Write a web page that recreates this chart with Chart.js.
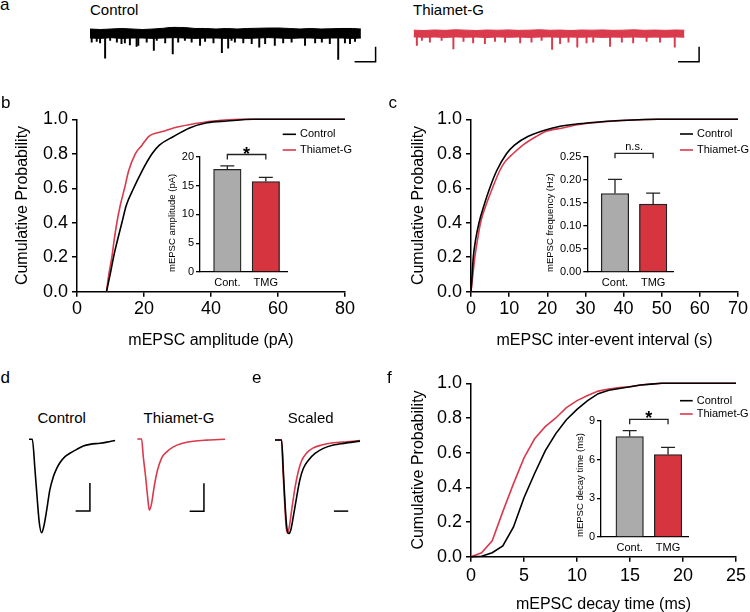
<!DOCTYPE html>
<html><head><meta charset="utf-8">
<script src="https://cdn.jsdelivr.net/npm/chart.js@4/dist/chart.umd.min.js"></script>
<style>
html,body{margin:0;padding:0;background:#fff;width:750px;height:612px;overflow:hidden;position:relative;font-family:"Liberation Sans",Arial,Helvetica,sans-serif;}
canvas{position:absolute;}
.tx{position:absolute;color:#000;white-space:nowrap;}
</style></head><body>
<script>
// ===================== DATA =====================
// panel b : cumulative probability of mEPSC amplitude (pA)
const ampCtrlX = [8.8, 9.9, 10.9, 12.1, 13.4, 14.7, 16.9, 19.4, 22.4, 24.6, 28.8, 33.6, 38.8, 44.7, 52.7, 80];
const ampCtrlP = [0, 0.1, 0.2, 0.3, 0.4, 0.5, 0.6, 0.7, 0.8, 0.85, 0.9, 0.95, 0.98, 0.99, 1.0, 1.0];
const ampTmgX  = [8.8, 9.5, 10.4, 11.1, 11.9, 12.9, 14.2, 15.4, 17.4, 19.4, 21.4, 25.8, 28.8, 33.8, 40.8, 48.7, 80];
const ampTmgP  = [0, 0.1, 0.2, 0.3, 0.4, 0.5, 0.6, 0.7, 0.8, 0.85, 0.9, 0.93, 0.95, 0.97, 0.99, 1.0, 1.0];
// panel c : cumulative probability of inter-event interval (s)
const iviCtrlX = [0, 0.3, 0.6, 1.2, 2.1, 3.4, 4.9, 6.7, 9.3, 11.4, 14.9, 21.4, 26.6, 31, 37, 49, 70];
const iviCtrlP = [0, 0.1, 0.2, 0.3, 0.4, 0.5, 0.6, 0.7, 0.8, 0.85, 0.9, 0.95, 0.97, 0.98, 0.99, 1.0, 1.0];
const iviTmgX  = [0, 0.5, 1.0, 1.7, 2.5, 3.9, 5.6, 7.5, 8.8, 11, 13.6, 17.1, 19.7, 24, 28.4, 37.9, 49, 70];
const iviTmgP  = [0, 0.1, 0.2, 0.3, 0.4, 0.5, 0.6, 0.7, 0.75, 0.8, 0.85, 0.9, 0.93, 0.95, 0.97, 0.99, 1.0, 1.0];
// panel f : cumulative probability of decay time (ms)
const decayX     = [0, 1, 2, 3, 4, 5, 6, 7, 8, 9, 10, 11, 12, 13, 14, 15, 16, 17, 18, 25];
const decayCtrlP = [0, 0.003, 0.023, 0.062, 0.17, 0.34, 0.48, 0.61, 0.71, 0.79, 0.85, 0.90, 0.94, 0.96, 0.97, 0.98, 0.99, 0.995, 1.0, 1.0];
const decayTmgP  = [0, 0.023, 0.092, 0.26, 0.42, 0.57, 0.68, 0.75, 0.80, 0.86, 0.90, 0.93, 0.955, 0.967, 0.975, 0.98, 0.99, 0.996, 1.0, 1.0];
// insets (mean, SEM)
const groups    = ['Cont.', 'TMG'];
const ampMean   = [17.8, 15.7];   const ampSem   = [0.6, 0.7];
const freqMean  = [0.170, 0.147]; const freqSem  = [0.031, 0.024];
const decayMean = [7.8, 6.4];     const decaySem = [0.45, 0.55];
// tick labels
const probTicks   = [0, 0.2, 0.4, 0.6, 0.8, 1.0];
const ampTicks    = [0, 20, 40, 60, 80];
const iviTicks    = [0, 10, 20, 30, 40, 50, 60, 70];
const decayTicks  = [0, 5, 10, 15, 20, 25];
const ampInsetTicks   = [0, 5, 10, 15, 20];
const freqInsetTicks  = [0, 0.05, 0.10, 0.15, 0.20, 0.25];
const decayInsetTicks = [0, 3, 6, 9];
// panel a : raw recordings (time s, current pA relative to baseline)
const noiseT    = [0, 2.5, 5, 7.5, 10, 12.5, 15, 17.5, 20, 22.5, 25, 27.5, 30, 32.5, 35, 37.5, 40, 42.5, 45, 47.5, 50, 52.5, 55, 57.5, 60, 62.5, 64.5];
const ctrlNoiseUp  = [6, 5.3, 6, 6.7, 6, 5.3, 6, 7, 8.7, 8, 6.7, 6.7, 6, 6.7, 6, 6.7, 7, 7.3, 7.3, 6.7, 6, 6.7, 6, 6.4, 6.7, 6.7, 6];
const ctrlNoiseLow = [-6, -6.5, -5.5, -6.5, -6, -6, -6.5, -6, -5.5, -6, -6.5, -6, -6, -6.5, -6, -6.5, -6, -5.5, -6, -6.5, -6, -6, -6.5, -6, -6, -6.5, -6];
const tmgNoiseUp   = [4.5, 4, 4.7, 4.2, 5, 4.5, 4, 4.7, 4.3, 4.8, 4.2, 4.5, 5, 4.3, 4.6, 4, 4.7, 4.4, 4.8, 4.2, 4.5, 4.9, 4.3, 4.6, 4.2, 4.7, 4.4];
const tmgNoiseLow  = [-4.5, -5, -4.7, -5.2, -4.6, -5, -4.8, -5.3, -4.6, -5, -4.7, -5.2, -4.8, -4.6, -5.1, -4.8, -5, -4.6, -5.2, -4.8, -5, -4.7, -5.1, -4.8, -5, -4.6, -4.9];
const ctrlEventT = [0.4, 1.6, 2.4, 3.6, 4.8, 6.4, 7.5, 8.3, 9.5, 11.1, 11.5, 13.5, 15.2, 15.9, 17.9, 19.7, 21.0, 22.6, 24.2, 26.2, 27.4, 29.4, 31.4, 32.9, 33.7, 34.5, 36.5, 38.5, 40.3, 41.7, 44.0, 46.0, 48.0, 51.2, 53.6, 55.2, 57.1, 59.1, 60.7, 61.9, 63.1];
const ctrlEventA = [-11.6, -10.7, -12.4, -32.9, -9.3, -11.6, -13.7, -12.4, -15.1, -17.3, -16, -11.6, -22.7, -9.3, -12.4, -27.1, -11.6, -9.3, -11.6, -16, -10.7, -12.4, -25.7, -19.6, -9.3, -11.6, -12.4, -13.7, -18.3, -13.7, -16, -12.4, -11.6, -16, -12.4, -11.6, -13.7, -34.7, -12.4, -13.7, -10.7];
const tmgEventT  = [0.8, 2.0, 3.9, 6.7, 9.5, 11.9, 14.2, 17.0, 19.4, 21.8, 25.4, 28.1, 30.5, 33.0, 34.9, 36.9, 39.0, 41.2, 42.8, 46.8, 49.6, 52.3, 55.5, 58.7, 62.2];
const tmgEventA  = [-16, -9.3, -11.6, -9.3, -20.4, -10.7, -12.4, -13.7, -10.7, -11.6, -12.4, -11.6, -9.3, -21.3, -13.7, -11.6, -18.3, -12.4, -11.6, -17.3, -11.6, -12.4, -10.7, -11.6, -18.3];
// panel d : averaged mEPSCs (time ms, current pA)
const avgCtrlT = [0, 1.15, 2.1, 2.9, 3.6, 4.4, 5.2, 6.2, 7.3, 8.5, 9.7, 10.8, 12.6, 14.3, 16.7, 19.0, 21.3, 24.8, 27.2, 30.1];
const avgCtrlI = [0, 0, -5.5, -10.8, -14.9, -16.7, -15.5, -12.6, -9.0, -6.7, -5.2, -4.2, -3.1, -2.5, -1.8, -1.2, -0.9, -0.7, -0.5, -0.2];
const avgTmgT  = [0, 1.5, 2.1, 2.9, 3.6, 4.2, 5.0, 5.9, 7.1, 8.5, 10.3, 12.6, 15.5, 19.6, 24.3, 30.7];
const avgTmgI  = [0, 0, -3.2, -6.7, -10.3, -12.7, -11.5, -8.5, -5.5, -3.4, -2.3, -1.4, -0.8, -0.4, -0.2, -0.05];
// panel e : peak-scaled mEPSCs
const scCtrlT = [0, 2.3, 2.9, 3.5, 4.1, 4.8, 5.5, 6.4, 7.6, 8.7, 9.9, 11.7, 14.0, 16.9, 20.4, 23.9, 29.7];
const scCtrlI = [0, 0, -5.4, -11.3, -15.5, -16.7, -16.1, -13.7, -10.1, -7.1, -5.1, -3.6, -2.4, -1.5, -0.9, -0.6, -0.2];
const scTmgT  = [0, 2.3, 2.8, 3.4, 3.9, 4.3, 5.0, 5.8, 7.0, 8.2, 9.3, 11.1, 13.4, 16.3, 20.4, 25.1, 29.7];
const scTmgI  = [0, 0, -5.5, -11.4, -15.5, -16.6, -15.5, -12.6, -8.5, -5.5, -3.7, -2.3, -1.4, -0.9, -0.5, -0.3, -0.1];

// ===================== STYLE =====================
const FAMILY = '"Liberation Sans", Arial, Helvetica, sans-serif';
const BLACK = '#000000', RED = '#D93A4C', GRAY = '#ABABAB', BAR_RED = '#D6343F', OUT = '#222222';
Chart.defaults.font.family = FAMILY;
Chart.defaults.color = '#000';

// ===================== PLUGINS =====================
const miniLegend = { id: 'miniLegend', afterDraw(chart, a, o) {
  if (o.x === undefined) return;
  const ctx = chart.ctx; ctx.save();
  chart.data.datasets.forEach((ds, i) => {
    const y = o.y + i * o.dy;
    ctx.strokeStyle = ds.borderColor; ctx.lineWidth = 1.6;
    ctx.beginPath(); ctx.moveTo(o.x, y); ctx.lineTo(o.x + o.len, y); ctx.stroke();
    ctx.fillStyle = '#000'; ctx.font = '11px ' + FAMILY; ctx.textBaseline = 'middle'; ctx.textAlign = 'left';
    ctx.fillText(ds.label, o.x + o.len + 4, y);
  });
  ctx.restore();
}};
const errBars = { id: 'errBars', afterDatasetsDraw(chart, a, o) {
  if (!o.sem) return;
  const meta = chart.getDatasetMeta(0), ys = chart.scales.y, ctx = chart.ctx;
  ctx.save(); ctx.strokeStyle = OUT; ctx.lineWidth = 1.3;
  meta.data.forEach((bar, i) => {
    const m = chart.data.datasets[0].data[i].y;
    const y0 = ys.getPixelForValue(m), y1 = ys.getPixelForValue(m + o.sem[i]);
    ctx.beginPath(); ctx.moveTo(bar.x, y0); ctx.lineTo(bar.x, y1);
    ctx.moveTo(bar.x - 7, y1); ctx.lineTo(bar.x + 7, y1); ctx.stroke();
  });
  ctx.restore();
}};
const sigBracket = { id: 'sigBracket', afterDraw(chart, a, o) {
  if (o.y === undefined) return;
  const xs = chart.scales.x, ys = chart.scales.y, ctx = chart.ctx;
  const x1 = xs.getPixelForValue(1), x2 = xs.getPixelForValue(2), y = ys.getPixelForValue(o.y);
  ctx.save(); ctx.strokeStyle = OUT; ctx.lineWidth = 1.3;
  ctx.beginPath(); ctx.moveTo(x1, y + 5); ctx.lineTo(x1, y); ctx.lineTo(x2, y); ctx.lineTo(x2, y + 5); ctx.stroke();
  ctx.fillStyle = '#000'; ctx.textAlign = 'center'; ctx.textBaseline = 'alphabetic';
  if (o.label === '*') { ctx.font = 'bold 18px ' + FAMILY; ctx.fillText('*', (x1 + x2) / 2, y + 5); }
  else { ctx.font = '11px ' + FAMILY; ctx.fillText(o.label, (x1 + x2) / 2, y - 3.7); }
  ctx.restore();
}};
const scaleBar = { id: 'scaleBar', afterDraw(chart, a, o) {
  if (o.dx === undefined) return;
  const xs = chart.scales.x, ys = chart.scales.y, ctx = chart.ctx;
  const x1 = xs.getPixelForValue(o.x), x0 = xs.getPixelForValue(o.x - o.dx), y0 = ys.getPixelForValue(o.y);
  ctx.save(); ctx.strokeStyle = '#000'; ctx.lineWidth = 1.5;
  ctx.beginPath(); ctx.moveTo(x0, y0); ctx.lineTo(x1, y0);
  if (o.dy) ctx.lineTo(x1, ys.getPixelForValue(o.y + o.dy));
  ctx.stroke(); ctx.restore();
}};
Chart.register(miniLegend, errBars, sigBracket, scaleBar);

// ===================== HELPERS =====================
function addCanvas(b) {
  const c = document.createElement('canvas');
  c.width = b.w; c.height = b.h;
  c.style.left = b.l + 'px'; c.style.top = b.t + 'px';
  c.style.width = b.w + 'px'; c.style.height = b.h + 'px';
  document.body.appendChild(c); return c;
}
function text(str, x, baseline, size, center, bold) {
  const d = document.createElement('div'); d.className = 'tx'; d.textContent = str;
  d.style.fontSize = size + 'px'; d.style.lineHeight = size + 'px';
  d.style.top = (baseline - 0.8465 * size) + 'px'; d.style.left = x + 'px';
  if (center) d.style.transform = 'translateX(-50%)';
  if (bold) d.style.fontWeight = 'bold';
  document.body.appendChild(d);
}
const pts = (xs, ys) => xs.map((x, i) => ({ x, y: ys[i] }));
const baseOpts = { responsive: false, animation: false, devicePixelRatio: 1, events: [] };

function cumChart(box, area, yTitleCX, xTitleCY, xTicks, xTitle, sets, legend, xTickPad) {
  const LH = 16 * 1.2;
  const scaleLeft = yTitleCX - LH / 2, scaleBottom = xTitleCY + LH / 2;
  const Wy = area.l - scaleLeft, Hx = scaleBottom - area.b;
  const pad = { left: scaleLeft - box.l, top: area.t - box.t, right: box.l + box.w - area.r, bottom: box.t + box.h - scaleBottom };
  const axisGrid = { display: true, drawOnChartArea: false, drawTicks: true, tickLength: 5, color: '#000', lineWidth: 1.5 };
  return new Chart(addCanvas(box), {
    type: 'scatter',
    data: { datasets: sets.map(s => ({ label: s.label, data: pts(s.x, s.p), showLine: true, borderColor: s.color, backgroundColor: s.color,
      borderWidth: 1.6, pointRadius: 0, pointHoverRadius: 0, cubicInterpolationMode: s.mono ? 'monotone' : 'default', tension: 0, clip: 4 })) },
    options: Object.assign({}, baseOpts, {
      layout: { padding: pad },
      plugins: { legend: { display: false }, tooltip: { enabled: false }, miniLegend: legend },
      scales: {
        x: { type: 'linear', min: xTicks[0], max: xTicks[xTicks.length - 1],
          afterBuildTicks: s => { s.ticks = xTicks.map(v => ({ value: v })); },
          afterFit: s => { s.height = Hx; },
          border: { display: true, color: '#000', width: 1.5 }, grid: axisGrid,
          ticks: { color: '#000', font: { size: 18 }, padding: xTickPad, maxRotation: 0, autoSkip: false, callback: v => String(v) },
          title: { display: true, text: xTitle, color: '#000', font: { size: 16 }, padding: 0 } },
        y: { type: 'linear', min: 0, max: 1,
          afterBuildTicks: s => { s.ticks = probTicks.map(v => ({ value: v })); },
          afterFit: s => { s.width = Wy; },
          border: { display: true, color: '#000', width: 1.5 }, grid: axisGrid,
          ticks: { color: '#000', font: { size: 18 }, padding: 4, callback: v => v.toFixed(1) },
          title: { display: true, text: 'Cumulative Probability', color: '#000', font: { size: 16 }, padding: 0 } }
      }
    })
  });
}

function insetChart(box, area, yTitleCX, o) {
  const LH = 9.5 * 1.2, Hx = 18;
  const scaleLeft = yTitleCX - LH / 2;
  const Wy = area.l - scaleLeft;
  const pad = { left: scaleLeft - box.l, top: area.t - box.t, right: box.l + box.w - area.r, bottom: box.t + box.h - area.b - Hx };
  const yT = o.ticks;
  return new Chart(addCanvas(box), {
    type: 'bar',
    data: { datasets: [{ data: o.mean.map((m, i) => ({ x: i + 1, y: m })), backgroundColor: [GRAY, BAR_RED], borderColor: OUT,
      borderWidth: 1.3, barThickness: 27.5, borderSkipped: 'start' }] },
    options: Object.assign({}, baseOpts, {
      layout: { padding: pad },
      plugins: { legend: { display: false }, tooltip: { enabled: false }, errBars: { sem: o.sem }, sigBracket: { y: o.sigY, label: o.sigLabel } },
      scales: {
        x: { type: 'linear', min: o.xMin, max: o.xMax, offset: false,
          afterBuildTicks: s => { s.ticks = groups.map((g, i) => ({ value: i + 1 })); },
          afterFit: s => { s.height = Hx; },
          border: { display: true, color: '#000', width: 1.3 },
          grid: { display: true, drawOnChartArea: false, drawTicks: false },
          ticks: { color: '#000', font: { size: 11 }, padding: 4, maxRotation: 0, autoSkip: false, callback: v => groups[Math.round(v) - 1] } },
        y: { type: 'linear', min: yT[0], max: yT[yT.length - 1],
          afterBuildTicks: s => { s.ticks = yT.map(v => ({ value: v })); },
          afterFit: s => { s.width = Wy; },
          border: { display: true, color: '#000', width: 1.3 },
          grid: { display: true, drawOnChartArea: false, drawTicks: true, tickLength: 4, color: '#000', lineWidth: 1.3 },
          ticks: { color: '#000', font: { size: 11 }, padding: 2, callback: v => v.toFixed(o.dec) },
          title: { display: true, text: o.title, color: '#000', font: { size: 9.5 }, padding: 0, align: 'start' } }
      }
    })
  });
}

function areaPad(box, area) {
  return { left: area.l - box.l, top: area.t - box.t, right: box.l + box.w - area.r, bottom: box.t + box.h - area.b };
}
function recordingChart(box, area, up, low, evT, evA, color) {
  return new Chart(addCanvas(box), {
    type: 'bar',
    data: { datasets: [
      { type: 'line', data: pts(noiseT, up), borderColor: color, backgroundColor: color, borderWidth: 1, pointRadius: 0, fill: '+1', tension: 0 },
      { type: 'line', data: pts(noiseT, low), borderColor: color, backgroundColor: color, borderWidth: 1, pointRadius: 0, fill: false, tension: 0 },
      { type: 'bar', data: evT.map((t, i) => ({ x: t, y: [-3, evA[i]] })), backgroundColor: color, borderWidth: 0, barThickness: 1.3 }
    ] },
    options: Object.assign({}, baseOpts, {
      layout: { padding: areaPad(box, area) },
      plugins: { legend: { display: false }, tooltip: { enabled: false }, scaleBar: { x: 68, y: -37.5, dx: 5, dy: 20 } },
      scales: { x: { type: 'linear', display: false, min: 0, max: 70, offset: false }, y: { display: false, min: -40, max: 9 } }
    })
  });
}
function waveChart(box, area, sets, bar) {
  return new Chart(addCanvas(box), {
    type: 'line',
    data: { datasets: sets.map(s => ({ data: pts(s.t, s.i), borderColor: s.color, borderWidth: 1.6, pointRadius: 0, fill: false, cubicInterpolationMode: 'monotone', clip: 4 })) },
    options: Object.assign({}, baseOpts, {
      layout: { padding: areaPad(box, area) },
      plugins: { legend: { display: false }, tooltip: { enabled: false }, scaleBar: bar },
      scales: { x: { type: 'linear', display: false, min: 0, max: 31 }, y: { display: false, min: -17.5, max: 1 } }
    })
  });
}

// ===================== PANEL a =====================
recordingChart({ l: 85, t: 21, w: 305, h: 48 }, { l: 90, t: 26.75, r: 384, b: 63.5 }, ctrlNoiseUp, ctrlNoiseLow, ctrlEventT, ctrlEventA, BLACK);
recordingChart({ l: 408, t: 21, w: 305, h: 48 }, { l: 413.5, t: 26.75, r: 707.5, b: 63.5 }, tmgNoiseUp, tmgNoiseLow, tmgEventT, tmgEventA, RED);

// ===================== PANEL b =====================
cumChart({ l: 0, t: 95, w: 360, h: 260 }, { l: 77, t: 119.3, r: 345, b: 291.7 }, 23, 340.7, ampTicks, 'mEPSC amplitude (pA)',
  [{ label: 'Control', x: ampCtrlX, p: ampCtrlP, color: BLACK, mono: true }, { label: 'Thiamet-G', x: ampTmgX, p: ampTmgP, color: RED, mono: true }],
  { x: 282.7, y: 39.3, dy: 15.7, len: 13.3 }, 2);
insetChart({ l: 160, t: 135, w: 135, h: 160 }, { l: 200, t: 156.7, r: 287, b: 272 }, 172.7,
  { mean: ampMean, sem: ampSem, ticks: ampInsetTicks, dec: 0, title: 'mEPSC amplitude (pA)', xMin: 0.29, xMax: 2.55, sigY: 20.38, sigLabel: '*' });

// ===================== PANEL c =====================
cumChart({ l: 370, t: 95, w: 380, h: 260 }, { l: 471, t: 119.3, r: 740, b: 291.7 }, 418.3, 340.7, iviTicks, 'mEPSC inter-event interval (s)',
  [{ label: 'Control', x: iviCtrlX, p: iviCtrlP, color: BLACK, mono: true }, { label: 'Thiamet-G', x: iviTmgX, p: iviTmgP, color: RED, mono: true }],
  { x: 310, y: 39, dy: 16, len: 13 }, 2);
insetChart({ l: 535, t: 135, w: 145, h: 160 }, { l: 587.3, t: 156.7, r: 673, b: 272 }, 550,
  { mean: freqMean, sem: freqSem, ticks: freqInsetTicks, dec: 2, title: 'mEPSC frequency (Hz)', xMin: 0.274, xMax: 2.52, sigY: 0.2574, sigLabel: 'n.s.' });

// ===================== PANEL d / e =====================
waveChart({ l: 24, t: 428, w: 99, h: 115 }, { l: 29, t: 433.7, r: 117.66, b: 537.3 },
  [{ t: avgCtrlT, i: avgCtrlI, color: BLACK }], { x: 21.3, y: -12.8, dx: 5, dy: 5 });
waveChart({ l: 132, t: 428, w: 100, h: 115 }, { l: 137.3, t: 433.4, r: 225.96, b: 537 },
  [{ t: avgTmgT, i: avgTmgI, color: RED }], { x: 23.3, y: -12.9, dx: 5, dy: 5 });
waveChart({ l: 270, t: 429, w: 100, h: 115 }, { l: 275, t: 434.4, r: 363.66, b: 538 },
  [{ t: scCtrlT, i: scCtrlI, color: BLACK }, { t: scTmgT, i: scTmgI, color: RED }], { x: 25.6, y: -12.7, dx: 5, dy: 0 });

// ===================== PANEL f =====================
cumChart({ l: 370, t: 360, w: 380, h: 260 }, { l: 471, t: 383.3, r: 741, b: 556.7 }, 418.3, 605, decayTicks, 'mEPSC decay time (ms)',
  [{ label: 'Control', x: decayX, p: decayCtrlP, color: BLACK, mono: false }, { label: 'Thiamet-G', x: decayX, p: decayTmgP, color: RED, mono: false }],
  { x: 310, y: 40.7, dy: 13.3, len: 12.7 }, 4);
insetChart({ l: 565, t: 400, w: 130, h: 160 }, { l: 601, t: 421, r: 688, b: 537 }, 580,
  { mean: decayMean, sem: decaySem, ticks: decayInsetTicks, dec: 0, title: 'mEPSC decay time (ms)', xMin: 0.253, xMax: 2.52, sigY: 9.13, sigLabel: '*' });

// ===================== TEXT LABELS =====================
text('a', 0, 10, 17); text('b', 1, 108.3, 17); text('c', 388.5, 108, 17);
text('d', 0.5, 383.3, 17); text('e', 252, 383.3, 17); text('f', 387, 383.3, 17);
text('Control', 90, 15, 15); text('Thiamet-G', 413, 15, 15);
text('Control', 61.7, 422.7, 15, true); text('Thiamet-G', 179, 422.7, 15, true); text('Scaled', 310.7, 422.7, 15, true);
</script>
</body></html>
